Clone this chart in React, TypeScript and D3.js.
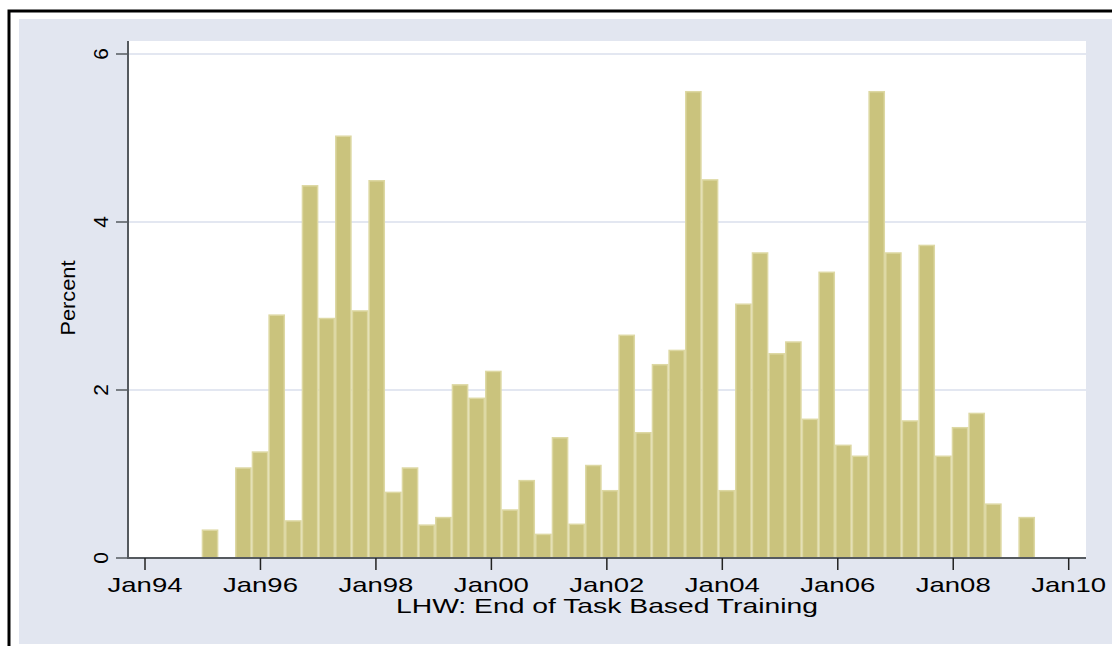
import React from "react";
import * as d3 from "d3";

// Histogram: percent of LHWs per bin (50 equal-width bins)
const percents: number[] = [
  0.34, 0, 1.08, 1.27, 2.9, 0.45, 4.44, 2.86, 5.03, 2.95,
  4.5, 0.79, 1.08, 0.4, 0.49, 2.07, 1.91, 2.23, 0.58, 0.93,
  0.29, 1.44, 0.41, 1.11, 0.81, 2.66, 1.5, 2.31, 2.48, 5.56,
  4.51, 0.81, 3.03, 3.64, 2.44, 2.58, 1.66, 3.41, 1.35, 1.22,
  5.56, 3.64, 1.64, 3.73, 1.22, 1.56, 1.73, 0.65, 0, 0.49,
];
const binStartYear = 1994.982; // first bin's left edge (fractional year)
const binWidthYears = 0.2887; // width of each bin in years

const xTickYears: number[] = [1994, 1996, 1998, 2000, 2002, 2004, 2006, 2008, 2010];
const xTickLabels: string[] = ["Jan94", "Jan96", "Jan98", "Jan00", "Jan02", "Jan04", "Jan06", "Jan08", "Jan10"];
const yTicks: number[] = [0, 2, 4, 6];
const yTickLabels: string[] = ["0", "2", "4", "6"];

const xTitle = "LHW: End of Task Based Training";
const yTitle = "Percent";

export default function App() {
  const W = 1112;
  const H = 646;
  const plotL = 128;
  const plotR = 1086;
  const plotT = 41;
  const plotB = 558;

  const x = d3.scaleLinear().domain([1994, 2010]).range([145, 1068.7]);
  const y = d3.scaleLinear().domain([0, 6]).range([plotB, 54]);

  const font = "'Liberation Sans', Arial, Helvetica, sans-serif";
  const bg = "#e2e6f0";
  const axisCol = "#555a5f";

  const bars = percents.map((v, i) => {
    const x0 = x(binStartYear + i * binWidthYears);
    const x1 = x(binStartYear + (i + 1) * binWidthYears);
    return { x0, x1, v };
  });

  return (
    <svg
      width={W}
      height={H}
      style={{ position: "absolute", left: 0, top: 0, display: "block" }}
      xmlns="http://www.w3.org/2000/svg"
    >
      <rect x={0} y={0} width={W} height={H} fill="#ffffff" />
      {/* outer frame */}
      <rect x={9} y={11} width={W + 20} height={H + 20} fill="none" stroke="#000" strokeWidth={3} />
      {/* graph region */}
      <rect x={19} y={19} width={W - 19} height={644 - 19} fill={bg} />
      {/* plot region */}
      <rect x={plotL} y={plotT} width={plotR - plotL} height={plotB - plotT} fill="#ffffff" />

      {/* gridlines */}
      {yTicks
        .filter((t) => t !== 0)
        .map((t) => (
          <line
            key={"g" + t}
            x1={plotL}
            x2={plotR}
            y1={y(t)}
            y2={y(t)}
            stroke="#e3e7f1"
            strokeWidth={2}
          />
        ))}

      {/* bars */}
      {bars
        .filter((b) => b.v > 0)
        .map((b, i) => (
          <rect
            key={"b" + i}
            x={b.x0 + 0.75}
            y={y(b.v) + 0.75}
            width={b.x1 - b.x0 - 1.5}
            height={plotB - y(b.v) - 0.75}
            fill="#cac37d"
            stroke="#ddd8a3"
            strokeWidth={1.5}
          />
        ))}

      {/* axes */}
      <line x1={plotL} x2={plotL} y1={plotT} y2={plotB + 1} stroke={axisCol} strokeWidth={2} />
      <line x1={plotL - 1} x2={plotR} y1={plotB} y2={plotB} stroke={axisCol} strokeWidth={2} />

      {/* y ticks */}
      {yTicks.map((t, i) => (
        <g key={"yt" + t}>
          <line x1={116} x2={plotL} y1={y(t)} y2={y(t)} stroke={axisCol} strokeWidth={1.5} />
          <text
            transform={`translate(108,${y(t)}) rotate(-90)`}
            textAnchor="middle"
            fontFamily={font}
            fontSize={21}
            fill="#000"
          >
            {yTickLabels[i]}
          </text>
        </g>
      ))}

      {/* x ticks */}
      {xTickYears.map((t, i) => (
        <g key={"xt" + t}>
          <line x1={x(t)} x2={x(t)} y1={plotB} y2={plotB + 12} stroke="#222" strokeWidth={1.5} />
          <text
            x={x(t)}
            y={592}
            textAnchor="middle"
            fontFamily={font}
            fontSize={21}
            textLength={75}
            lengthAdjust="spacingAndGlyphs"
            fill="#000"
          >
            {xTickLabels[i]}
          </text>
        </g>
      ))}

      {/* axis titles */}
      <text
        x={(plotL + plotR) / 2}
        y={613}
        textAnchor="middle"
        fontFamily={font}
        fontSize={21}
        textLength={422}
        lengthAdjust="spacingAndGlyphs"
        fill="#000"
      >
        {xTitle}
      </text>
      <text
        transform={`translate(75,298) rotate(-90)`}
        textAnchor="middle"
        fontFamily={font}
        fontSize={20}
        textLength={75}
        lengthAdjust="spacingAndGlyphs"
        fill="#000"
      >
        {yTitle}
      </text>
    </svg>
  );
}
